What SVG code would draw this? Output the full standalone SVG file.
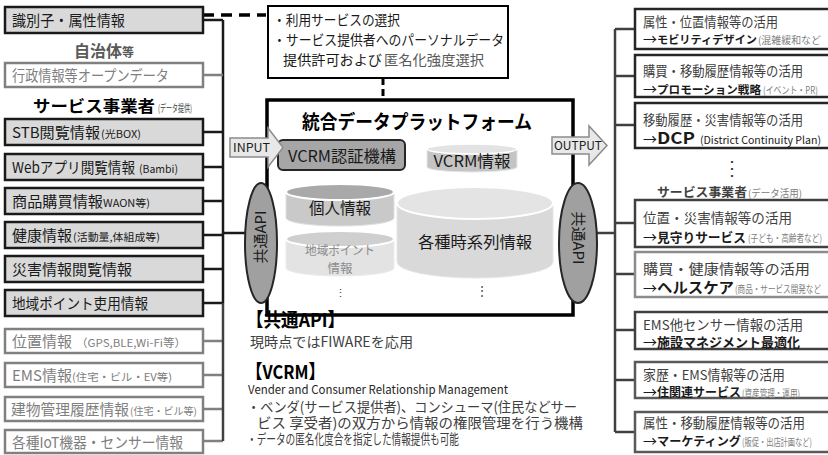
<svg xmlns="http://www.w3.org/2000/svg" width="828" height="455" viewBox="0 0 828 455">
<style>
text{font-family:"Noto Sans CJK JP","Noto Sans",sans-serif;}
.gbox{fill:#d9d9d9;stroke:#1a1a1a;stroke-width:2.5}
.wbox{fill:#fff;stroke:#808080;stroke-width:2.5}
.lt{font-size:15px;fill:#1a1a1a}
.lg{font-size:15px;fill:#808080}
.s{font-size:10.5px}
.rb{fill:#fff;stroke-width:2.5}
.r1{font-size:13.5px;fill:#404040}
.r2{font-size:14px;fill:#1a1a1a}
.b{font-weight:bold}
.rs{font-size:10px;fill:#808080}
.dk{stroke:#1a1a1a;stroke-width:2.5;fill:none}
.gy{stroke:#808080;stroke-width:2.5;fill:none}
.md{stroke:#404040;stroke-width:2.5;fill:none}
.bt{font-size:14px;fill:#404040}
</style>

<g id="connectors">
  <path class="dk" d="M203,20H223M203,132H223M203,167H223M203,201H223M203,235H223M203,269H223M203,303H223M223,20V303M223,233H246"/>
  <path class="gy" d="M203,75H223M203,341H223M203,375H223M203,409H223M203,441H223"/>
  <path class="md" d="M223,303V441"/>
  <path d="M203,15H266" stroke="#000" stroke-width="3.5" stroke-dasharray="11 7" fill="none"/>
  <path d="M383,78V100" stroke="#000" stroke-width="3" stroke-dasharray="7 4" fill="none"/>
  <path class="md" d="M615,29V432M597,233H615M615,29H635M615,76H635M615,125H635M615,223H635M615,274H635M615,330H635M615,380H635M615,432H635"/>
</g>

<g id="left-labels">
  <text x="104" y="57" text-anchor="middle" fill="#595959" class="b" font-size="16"><tspan>自治体</tspan><tspan font-size="12">等</tspan></text>
  <text y="112" fill="#000"><tspan x="33" class="b" font-size="16" textLength="122" lengthAdjust="spacingAndGlyphs">サービス事業者</tspan><tspan x="158" font-size="10" textLength="34" lengthAdjust="spacingAndGlyphs" fill="#404040">(データ提供)</tspan></text>
</g>

<g id="n-shikibetsu"><rect class="gbox" x="5" y="7" width="198" height="26"/><text class="lt" font-size="15.5" x="12" y="26" textLength="113" lengthAdjust="spacingAndGlyphs">識別子・属性情報</text></g>
<g id="n-gyosei"><rect class="wbox" x="5" y="63" width="198" height="24"/><text class="lg" font-size="15.5" x="12" y="81" textLength="157" lengthAdjust="spacingAndGlyphs">行政情報等オープンデータ</text></g>
<g id="n-stb"><rect class="gbox" x="5" y="119" width="198" height="26"/><text class="lt" y="138"><tspan x="12" textLength="88" lengthAdjust="spacingAndGlyphs">STB閲覧情報</tspan><tspan x="101" class="s" textLength="40" lengthAdjust="spacingAndGlyphs">(光BOX)</tspan></text></g>
<g id="n-web"><rect class="gbox" x="5" y="154" width="198" height="26"/><text class="lt" font-size="13.5" y="173"><tspan x="12" textLength="123" lengthAdjust="spacingAndGlyphs">Webアプリ閲覧情報</tspan><tspan x="139" font-size="11" textLength="39" lengthAdjust="spacingAndGlyphs">(Bambi)</tspan></text></g>
<g id="n-shohin"><rect class="gbox" x="5" y="188" width="198" height="26"/><text class="lt" y="207"><tspan x="12" textLength="91" lengthAdjust="spacingAndGlyphs">商品購買情報</tspan><tspan x="103" class="s" textLength="47" lengthAdjust="spacingAndGlyphs">WAON等)</tspan></text></g>
<g id="n-kenko"><rect class="gbox" x="5" y="222" width="198" height="26"/><text class="lt" font-size="14.8" y="241"><tspan x="12" textLength="60" lengthAdjust="spacingAndGlyphs">健康情報</tspan><tspan x="73" class="s" textLength="87" lengthAdjust="spacingAndGlyphs">(活動量,体組成等)</tspan></text></g>
<g id="n-saigai"><rect class="gbox" x="5" y="256" width="198" height="26"/><text class="lt" font-size="15.5" x="12" y="275" textLength="120" lengthAdjust="spacingAndGlyphs">災害情報閲覧情報</text></g>
<g id="n-chiiki"><rect class="gbox" x="5" y="290" width="198" height="26"/><text class="lt" font-size="15.5" x="12" y="309" textLength="136" lengthAdjust="spacingAndGlyphs">地域ポイント吏用情報</text></g>
<g id="n-ichi"><rect class="wbox" x="5" y="329" width="198" height="24"/><text class="lg" y="347"><tspan x="12" textLength="60" lengthAdjust="spacingAndGlyphs">位置情報</tspan><tspan x="76" font-size="11" textLength="110" lengthAdjust="spacingAndGlyphs">（GPS,BLE,Wi-Fi等）</tspan></text></g>
<g id="n-ems"><rect class="wbox" x="5" y="363" width="198" height="24"/><text class="lg" y="381"><tspan x="12" textLength="60" lengthAdjust="spacingAndGlyphs">EMS情報</tspan><tspan x="72" class="s" textLength="100" lengthAdjust="spacingAndGlyphs">(住宅・ビル・EV等)</tspan></text></g>
<g id="n-tatemono"><rect class="wbox" x="5" y="397" width="198" height="24"/><text class="lg" font-size="14.5" y="415"><tspan x="11" textLength="118" lengthAdjust="spacingAndGlyphs">建物管理履歴情報</tspan><tspan x="130" font-size="10" textLength="67" lengthAdjust="spacingAndGlyphs">(住宅・ビル等)</tspan></text></g>
<g id="n-iot"><rect class="wbox" x="5" y="430" width="198" height="23"/><text class="lg" font-size="15.5" x="12" y="448" textLength="171" lengthAdjust="spacingAndGlyphs">各種IoT機器・センサー情報</text></g>

<g id="n-select">
  <rect x="268" y="6" width="240" height="72" fill="#fff" stroke="#000" stroke-width="2"/>
  <text x="273" y="25" font-size="14" fill="#1a1a1a" textLength="127" lengthAdjust="spacingAndGlyphs">・利用サービスの選択</text>
  <text x="273" y="45" font-size="14" fill="#1a1a1a" textLength="231" lengthAdjust="spacingAndGlyphs">・サービス提供者へのパーソナルデータ</text>
  <text y="65" font-size="14" fill="#1a1a1a"><tspan x="283" textLength="99" lengthAdjust="spacingAndGlyphs">提供許可および</tspan><tspan x="384" fill="#595959" textLength="100" lengthAdjust="spacingAndGlyphs">匿名化強度選択</tspan></text>
</g>

<g id="n-platform">
  <rect x="267" y="100" width="306" height="215" fill="#fff" stroke="#000" stroke-width="3.5"/>
  <text x="302" y="129" font-size="19" font-weight="bold" fill="#000" textLength="230" lengthAdjust="spacingAndGlyphs">統合データプラットフォーム</text>
</g>

<g id="n-vcrm-auth">
  <rect x="278" y="140" width="127" height="30" rx="5" fill="#a6a6a6" stroke="#262626" stroke-width="2"/>
  <text x="288" y="162" font-size="16" fill="#1a1a1a" textLength="108" lengthAdjust="spacingAndGlyphs">VCRM認証機構</text>
</g>

<g id="n-vcrm-info">
  <path d="M427,149V167A45,5 0 0 0 517,167V149Z" fill="#c4c4c4" stroke="#e6e6e6" stroke-width="1"/>
  <ellipse cx="472" cy="149" rx="45" ry="5" fill="#e3e3e3" stroke="#fff" stroke-width="1.5"/>
  <text x="472" y="167" text-anchor="middle" font-size="16" fill="#1a1a1a" textLength="77" lengthAdjust="spacingAndGlyphs">VCRM情報</text>
</g>

<g id="n-kojin">
  <path d="M286,192V218A54,8 0 0 0 394,218V192Z" fill="#c9c9c9" stroke="#e0e0e0" stroke-width="1"/>
  <ellipse cx="340" cy="192" rx="54" ry="8" fill="#a9a9a9" stroke="#fff" stroke-width="2"/>
  <text x="340" y="214" text-anchor="middle" font-size="16" fill="#1a1a1a" textLength="62" lengthAdjust="spacingAndGlyphs">個人情報</text>
</g>

<g id="n-chiiki-point">
  <path d="M286,239V268A54,8 0 0 0 394,268V239Z" fill="#e3e3e3" stroke="#ececec" stroke-width="1"/>
  <ellipse cx="340" cy="239" rx="54" ry="8" fill="#cfcfcf" stroke="#fff" stroke-width="2"/>
  <text x="340" y="255" text-anchor="middle" font-size="12.5" fill="#8c8c8c" textLength="70" lengthAdjust="spacingAndGlyphs">地域ポイント</text>
  <text x="340" y="273" text-anchor="middle" font-size="12.5" fill="#8c8c8c">情報</text>
  <text x="340" y="297" text-anchor="middle" font-size="11" fill="#404040">⋮</text>
</g>

<g id="n-jikeiretsu">
  <path d="M397,203V262A78,16 0 0 0 553,262V203Z" fill="#d9d9d9" stroke="#e6e6e6" stroke-width="1"/>
  <ellipse cx="475" cy="203" rx="78" ry="16" fill="#e4e4e4" stroke="#fff" stroke-width="2"/>
  <text x="475" y="248" text-anchor="middle" font-size="16" fill="#1a1a1a" textLength="114" lengthAdjust="spacingAndGlyphs">各種時系列情報</text>
  <text x="482" y="295" text-anchor="middle" font-size="12" fill="#404040">⋮</text>
</g>

<g id="n-input">
  <path d="M230,138H268V128L283,147.5L268,167V157H230Z" fill="#e8e8e8" stroke="#8c8c8c" stroke-width="1.5"/>
  <text x="233" y="152" font-size="11.5" fill="#1a1a1a" textLength="37" lengthAdjust="spacingAndGlyphs">INPUT</text>
</g>

<g id="n-output">
  <path d="M552,137H589V126L607,145.5L589,165V154H552Z" fill="#e8e8e8" stroke="#8c8c8c" stroke-width="1.5"/>
  <text x="554" y="150" font-size="11.5" fill="#1a1a1a" textLength="48" lengthAdjust="spacingAndGlyphs">OUTPUT</text>
</g>

<g id="n-api-left">
  <ellipse cx="261" cy="243" rx="16" ry="60" fill="#a0a0a0" stroke="#262626" stroke-width="2"/>
  <text transform="translate(266,237) rotate(-90)" text-anchor="middle" font-size="15" fill="#1a1a1a">共通API</text>
</g>

<g id="n-api-right">
  <ellipse cx="578" cy="243" rx="19" ry="60" fill="#a0a0a0" stroke="#262626" stroke-width="2"/>
  <text transform="translate(573,238) rotate(90)" text-anchor="middle" font-size="15" fill="#1a1a1a">共通API</text>
</g>

<g id="notes">
  <text x="246" y="327" font-size="19" font-weight="bold" fill="#000" textLength="99" lengthAdjust="spacingAndGlyphs">【共通API】</text>
  <text class="bt" x="250" y="347" textLength="163" lengthAdjust="spacingAndGlyphs">現時点ではFIWAREを応用</text>
  <text x="246" y="379" font-size="19" font-weight="bold" fill="#000" textLength="79" lengthAdjust="spacingAndGlyphs">【VCRM】</text>
  <text x="248" y="394" font-size="12" fill="#262626" textLength="260" lengthAdjust="spacingAndGlyphs">Vender and Consumer Relationship Management</text>
  <text class="bt" font-size="13" x="247" y="412" textLength="330" lengthAdjust="spacingAndGlyphs">・ベンダ(サービス提供者)、コンシューマ(住民などサー</text>
  <text class="bt" font-size="13" x="257" y="428" textLength="326" lengthAdjust="spacingAndGlyphs">ビス 享受者)の双方から情報の権限管理を行う機構</text>
  <text class="bt" font-size="11" x="247" y="444" textLength="212" lengthAdjust="spacingAndGlyphs">・データの匿名化度合を指定した情報提供も可能</text>
</g>

<g id="right-labels">
  <text x="732" y="175" text-anchor="middle" font-size="20" fill="#404040">⋮</text>
  <text y="197" font-size="12.5"><tspan x="657" class="b" fill="#404040" textLength="90" lengthAdjust="spacingAndGlyphs">サービス事業者</tspan><tspan x="748" font-size="10" fill="#808080" textLength="54" lengthAdjust="spacingAndGlyphs">(データ活用)</tspan></text>
</g>

<g id="r-mobility"><rect class="rb" stroke="#262626" x="635" y="9" width="200" height="40"/>
  <text class="r1" x="643" y="27" textLength="135" lengthAdjust="spacingAndGlyphs">属性・位置情報等の活用</text>
  <text class="r2" y="44"><tspan x="643">→</tspan><tspan x="657" class="b" font-size="11" textLength="100" lengthAdjust="spacingAndGlyphs">モビリティデザイン</tspan><tspan x="758" class="rs" font-size="9.5" textLength="63" lengthAdjust="spacingAndGlyphs">(混雑緩和など</tspan></text></g>
<g id="r-promotion"><rect class="rb" stroke="#262626" x="635" y="55" width="200" height="42"/>
  <text class="r1" x="643" y="76" textLength="160" lengthAdjust="spacingAndGlyphs">購買・移動履歴情報等の活用</text>
  <text class="r2" y="94"><tspan x="643">→</tspan><tspan x="657" class="b" font-size="11.5" textLength="104" lengthAdjust="spacingAndGlyphs">プロモーション戦略</tspan><tspan x="763" class="rs" font-size="8" textLength="55" lengthAdjust="spacingAndGlyphs">(イベント・PR)</tspan></text></g>
<g id="r-dcp"><rect class="rb" stroke="#262626" x="635" y="103" width="200" height="45"/>
  <text class="r1" x="643" y="125" textLength="160" lengthAdjust="spacingAndGlyphs">移動履歴・災害情報等の活用</text>
  <text class="r2" y="144"><tspan x="643">→</tspan><tspan x="657" class="b" font-size="16" textLength="38" lengthAdjust="spacingAndGlyphs">DCP</tspan><tspan x="700" font-size="10.5" textLength="121" lengthAdjust="spacingAndGlyphs">(District Continuity Plan)</tspan></text></g>
<g id="r-mimamori"><rect class="rb" stroke="#404040" x="635" y="200" width="200" height="47"/>
  <text class="r1" x="643" y="223" textLength="149" lengthAdjust="spacingAndGlyphs">位置・災害情報等の活用</text>
  <text class="r2" y="242"><tspan x="643">→</tspan><tspan x="657" class="b" font-size="12.8" textLength="89" lengthAdjust="spacingAndGlyphs">見守りサービス</tspan><tspan x="748" class="rs" font-size="7" textLength="74" lengthAdjust="spacingAndGlyphs">(子ども・高齢者など)</tspan></text></g>
<g id="r-health"><rect class="rb" stroke="#8c8c8c" x="635" y="252" width="200" height="45"/>
  <text class="r1" x="643" y="274" fill="#8c8c8c" textLength="167" lengthAdjust="spacingAndGlyphs">購買・健康情報等の活用</text>
  <text class="r2" y="293"><tspan x="643">→</tspan><tspan x="657" class="b" font-size="15" textLength="77" lengthAdjust="spacingAndGlyphs">ヘルスケア</tspan><tspan x="735" class="rs" font-size="7" textLength="86" lengthAdjust="spacingAndGlyphs">(商品・サービス開発など</tspan></text></g>
<g id="r-facility"><rect class="rb" stroke="#404040" x="635" y="312" width="200" height="37"/>
  <text class="r1" x="643" y="330" textLength="160" lengthAdjust="spacingAndGlyphs">EMS他センサー情報の活用</text>
  <text class="r2" y="347"><tspan x="643">→</tspan><tspan x="657" class="b" font-size="13" textLength="143" lengthAdjust="spacingAndGlyphs">施設マネジメント最適化</tspan></text></g>
<g id="r-housing"><rect class="rb" stroke="#595959" x="635" y="362" width="200" height="36"/>
  <text class="r1" x="643" y="380" textLength="142" lengthAdjust="spacingAndGlyphs">家歴・EMS情報等の活用</text>
  <text class="r2" y="397"><tspan x="643">→</tspan><tspan x="657" class="b" font-size="12" textLength="84" lengthAdjust="spacingAndGlyphs">住関連サービス</tspan><tspan x="742" class="rs" font-size="8" textLength="58" lengthAdjust="spacingAndGlyphs">(資産管理・運用)</tspan></text></g>
<g id="r-marketing"><rect class="rb" stroke="#595959" x="635" y="412" width="200" height="40"/>
  <text class="r1" x="643" y="428" textLength="162" lengthAdjust="spacingAndGlyphs">属性・移動履歴情報等の活用</text>
  <text class="r2" y="446"><tspan x="643">→</tspan><tspan x="657" class="b" font-size="12" textLength="84" lengthAdjust="spacingAndGlyphs">マーケティング</tspan><tspan x="742" class="rs" font-size="8.5" textLength="70" lengthAdjust="spacingAndGlyphs">(販促・出店計画など)</tspan></text></g>
</svg>
